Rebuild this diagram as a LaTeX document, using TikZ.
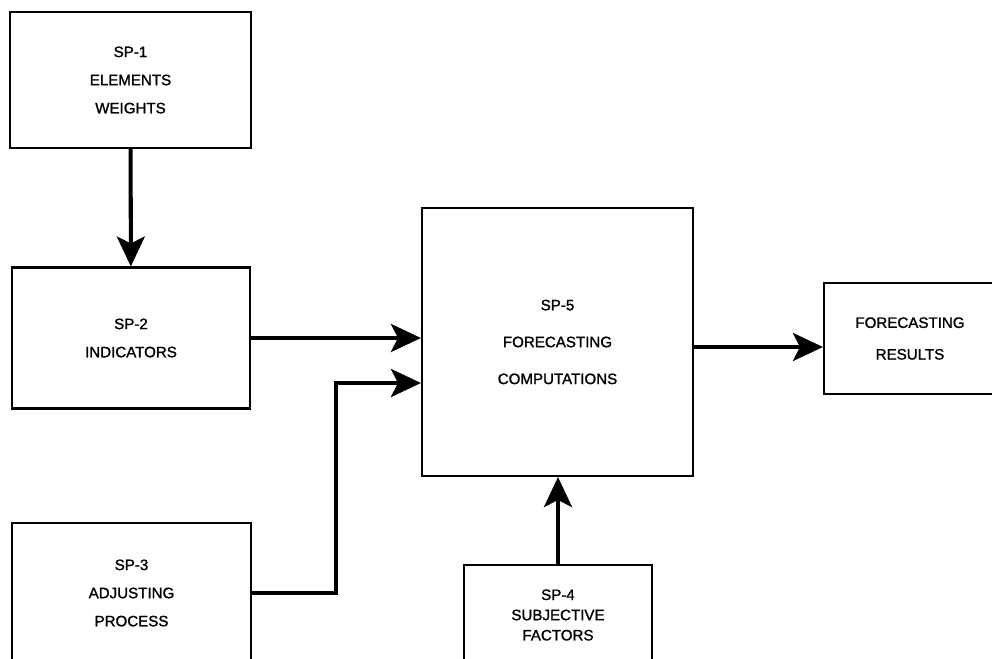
\documentclass[tikz,border=0pt]{standalone}
\usepackage{fontspec}
\setmainfont{Liberation Sans}
\newfontfamily\lettering{Liberation Sans}[FakeBold=1.3]
\usetikzlibrary{arrows.meta,positioning}

\begin{document}
\begin{tikzpicture}[
  x=0.02cm, y=-0.02cm,
  box/.style={draw, line width=1.2pt, inner sep=0pt, align=center,
    font=\lettering\fontsize{8.6}{16}\selectfont},
  arrow/.style={-{Stealth[length=0.6cm, width=0.56cm, inset=0.14cm]},
    line width=2.3pt},
]
  \clip (0,0) rectangle (992,659);
  % Sub-programs
  \node[box, minimum width=4.82cm, minimum height=2.72cm] (sp1) at (130.5,80)
    {SP-1\\ELEMENTS\\WEIGHTS};
  \node[box, minimum width=4.76cm, minimum height=2.82cm] (sp2) at (131,338)
    {SP-2\\INDICATORS};
  \node[box, minimum width=4.78cm, minimum height=2.80cm] (sp3) at (131.5,593)
    {SP-3\\ADJUSTING\\PROCESS};
  \node[box, minimum width=3.76cm, minimum height=2.0cm,
    font=\lettering\fontsize{8.6}{11.5}\selectfont] (sp4) at (558,615)
    {SP-4\\SUBJECTIVE\\FACTORS};
  % Main computation
  \node[box, minimum width=5.42cm, minimum height=5.36cm,
    font=\lettering\fontsize{8.6}{21}\selectfont] (sp5) at (557.5,342)
    {SP-5\\FORECASTING\\COMPUTATIONS};
  % Output
  \node[box, minimum width=3.44cm, minimum height=2.22cm,
    font=\lettering\fontsize{8.6}{18}\selectfont] (res) at (910,338.5)
    {FORECASTING\\RESULTS};
  % Connectors
  \coordinate (bend) at (336,383);
  \draw[arrow] (sp1) -- (sp2);
  \draw[arrow] (sp2.east) -- (sp2.east -| sp5.west);
  \draw[arrow] (sp3.east) -| (bend) -- (bend -| sp5.west);
  \draw[arrow] (sp4.north) -- (sp4.north |- sp5.south);
  \draw[arrow] ([yshift=-0.1cm]sp5.east) -- ([yshift=-0.1cm]sp5.east -| res.west);
\end{tikzpicture}
\end{document}
